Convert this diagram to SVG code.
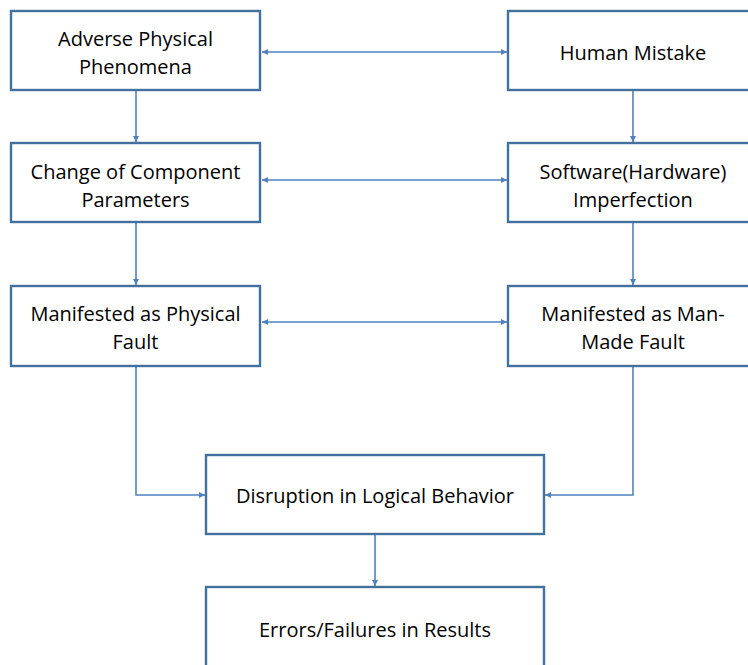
<svg xmlns="http://www.w3.org/2000/svg" width="748" height="665" viewBox="0 0 748 665">
  <defs>
    <marker id="arrow" viewBox="0 0 10 10" refX="10" refY="5" markerWidth="6" markerHeight="6" orient="auto-start-reverse" markerUnits="userSpaceOnUse">
      <path d="M0,0 L10,5 L0,10 z" fill="#4f81bd"/>
    </marker>
    <style>
      .box { fill: #ffffff; stroke: #41719c; stroke-width: 2.4; }
      .lbl { font-family: "Open Sans", "Liberation Sans", sans-serif; font-size: 20px; fill: #000000; text-anchor: middle; dominant-baseline: central; }
      .conn { fill: none; stroke: #4f81bd; stroke-width: 1.6; }
    </style>
  </defs>
  <rect width="748" height="665" fill="#ffffff"/>

  <g id="connectors">
    <line class="conn" x1="262" y1="52" x2="507" y2="52" marker-start="url(#arrow)" marker-end="url(#arrow)"/>
    <line class="conn" x1="262" y1="180" x2="507" y2="180" marker-start="url(#arrow)" marker-end="url(#arrow)"/>
    <line class="conn" x1="262" y1="322" x2="507" y2="322" marker-start="url(#arrow)" marker-end="url(#arrow)"/>
    <line class="conn" x1="136" y1="91" x2="136" y2="142" marker-end="url(#arrow)"/>
    <line class="conn" x1="136" y1="223" x2="136" y2="285" marker-end="url(#arrow)"/>
    <line class="conn" x1="633" y1="91" x2="633" y2="142" marker-end="url(#arrow)"/>
    <line class="conn" x1="633" y1="223" x2="633" y2="285" marker-end="url(#arrow)"/>
    <polyline class="conn" points="136,367 136,495 205,495" marker-end="url(#arrow)"/>
    <polyline class="conn" points="633,367 633,495 545,495" marker-end="url(#arrow)"/>
    <line class="conn" x1="375" y1="535" x2="375" y2="586" marker-end="url(#arrow)"/>
  </g>

  <g id="adverse-physical">
    <rect class="box" x="11" y="11" width="249" height="79"/>
    <text class="lbl" x="135.5" y="38">Adverse Physical</text>
    <text class="lbl" x="135.5" y="66">Phenomena</text>
  </g>
  <g id="human-mistake">
    <rect class="box" x="508" y="11" width="252" height="79"/>
    <text class="lbl" x="633" y="52">Human Mistake</text>
  </g>
  <g id="change-params">
    <rect class="box" x="11" y="143" width="249" height="79"/>
    <text class="lbl" x="135.5" y="171">Change of Component</text>
    <text class="lbl" x="135.5" y="199">Parameters</text>
  </g>
  <g id="software-imperfection">
    <rect class="box" x="508" y="143" width="252" height="79"/>
    <text class="lbl" x="633" y="171">Software(Hardware)</text>
    <text class="lbl" x="633" y="199">Imperfection</text>
  </g>
  <g id="physical-fault">
    <rect class="box" x="11" y="286" width="249" height="80"/>
    <text class="lbl" x="135.5" y="313">Manifested as Physical</text>
    <text class="lbl" x="135.5" y="341">Fault</text>
  </g>
  <g id="man-made-fault">
    <rect class="box" x="508" y="286" width="252" height="80"/>
    <text class="lbl" x="633" y="313">Manifested as Man-</text>
    <text class="lbl" x="633" y="341">Made Fault</text>
  </g>
  <g id="logical-disruption">
    <rect class="box" x="206" y="455" width="338" height="79"/>
    <text class="lbl" x="375" y="495">Disruption in Logical Behavior</text>
  </g>
  <g id="errors-failures">
    <rect class="box" x="206" y="587" width="338" height="90"/>
    <text class="lbl" x="375" y="629">Errors/Failures in Results</text>
  </g>
</svg>
